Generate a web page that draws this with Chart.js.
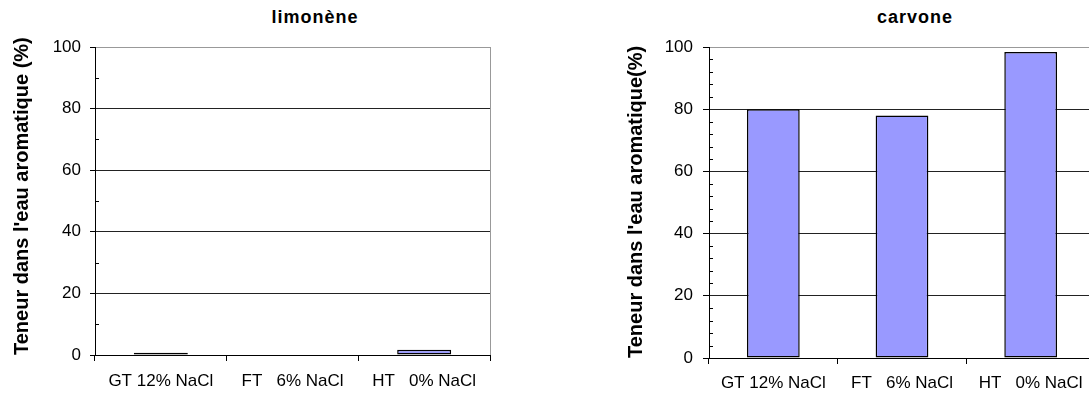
<!DOCTYPE html>
<html>
<head>
<meta charset="utf-8">
<script src="https://cdn.jsdelivr.net/npm/chart.js@4.4.1/dist/chart.umd.min.js"></script>
<style>
  html, body { margin: 0; padding: 0; background: #fff; }
  body { width: 1089px; height: 398px; overflow: hidden; position: relative; }
  canvas { position: absolute; top: 0; }
  #limoneneChart { left: 0; }
  #carvoneChart { left: 545px; }
  .title {
    position: absolute; top: 7px; width: 200px; line-height: 20px;
    text-align: center; font: bold 18px "Liberation Sans", Arial, sans-serif;
    letter-spacing: 1px; color: #000;
  }
</style>
</head>
<body>
<div class="title" style="left:215px">limonène</div>
<div class="title" style="left:815px">carvone</div>
<canvas id="limoneneChart" width="545" height="398"></canvas>
<canvas id="carvoneChart" width="560" height="398"></canvas>
<script>
const categories = ["GT 12% NaCl", "FT   6% NaCl", "HT   0% NaCl"];
const limoneneValues = [0.7, 0, 1.7];
const carvoneValues = [80, 78, 98.4];
const yMin = 0;
const yMax = 100;
const yStep = 20;

const FONT = "'Liberation Sans', Arial, sans-serif";

// small inward minor ticks on the value axis
const minorTicks = {
    id: "minorTicks",
    afterDraw(chart, args, opts) {
        const y = chart.scales.y;
        const ctx = chart.ctx;
        ctx.save();
        ctx.strokeStyle = "#000";
        ctx.lineWidth = 1;
        for (let v = y.min; v <= y.max; v += opts.step) {
            if (v % yStep === 0) continue;
            const py = Math.round(y.getPixelForValue(v)) + 0.5;
            ctx.beginPath();
            ctx.moveTo(y.right, py);
            ctx.lineTo(y.right + 4, py);
            ctx.stroke();
        }
        ctx.restore();
    }
};

function drawChart(id, values, opt) {
    const ctx = document.getElementById(id).getContext("2d");
    return new Chart(ctx, {
        type: "bar",
        data: {
            labels: categories,
            datasets: [{
                data: values,
                backgroundColor: "#9999FF",
                borderColor: "#000",
                borderWidth: 1.5,
                borderSkipped: false,
                categoryPercentage: 1,
                barPercentage: 0.41
            }]
        },
        plugins: [minorTicks],
        options: {
            responsive: false,
            animation: false,
            devicePixelRatio: 1,
            layout: { padding: opt.padding },
            plugins: {
                legend: { display: false },
                tooltip: { enabled: false },
                minorTicks: { step: opt.minorStep }
            },
            scales: {
                x: {
                    afterFit: s => { s.height = opt.xHeight; },
                    grid: {
                        offset: true,
                        drawOnChartArea: true,
                        color: c => c.type === "scale" ? "#999" : "rgba(0,0,0,0)",
                        tickColor: "#000",
                        tickLength: 6
                    },
                    border: { color: "#000", width: 1 },
                    ticks: {
                        color: "#000",
                        padding: opt.xPad,
                        maxRotation: 0,
                        autoSkip: false,
                        font: { family: FONT, size: 17 }
                    }
                },
                y: {
                    min: yMin,
                    max: yMax,
                    afterFit: s => { s.width = opt.yWidth; },
                    grid: {
                        color: c => c.tick && c.tick.value === yMax ? "#999" : "#222",
                        tickColor: "#000",
                        tickLength: opt.tickLength
                    },
                    border: { color: "#000", width: 1 },
                    ticks: {
                        stepSize: yStep,
                        color: "#000",
                        padding: opt.tickPad,
                        font: { family: FONT, size: 17 }
                    },
                    title: {
                        display: true,
                        text: opt.yTitle,
                        align: "start",
                        color: "#000",
                        padding: { top: opt.titlePad, bottom: 0 },
                        font: { family: FONT, size: 20, weight: "bold" }
                    }
                }
            }
        }
    });
}

drawChart("limoneneChart", limoneneValues, {
    padding: { left: 0, top: 47, right: 55, bottom: 0 },
    yWidth: 95,
    xHeight: 43,
    xPad: 10,
    tickLength: 5,
    tickPad: 9,
    titlePad: 10,
    minorStep: 10,
    yTitle: "Teneur dans l'eau aromatique (%)"
});

drawChart("carvoneChart", carvoneValues, {
    padding: { left: 70, top: 47, right: 10, bottom: 0 },
    yWidth: 94,
    xHeight: 40,
    xPad: 9,
    tickLength: 6,
    tickPad: 10,
    titlePad: 9,
    minorStep: 4,
    yTitle: "Teneur dans l'eau aromatique(%)"
});
</script>
</body>
</html>
